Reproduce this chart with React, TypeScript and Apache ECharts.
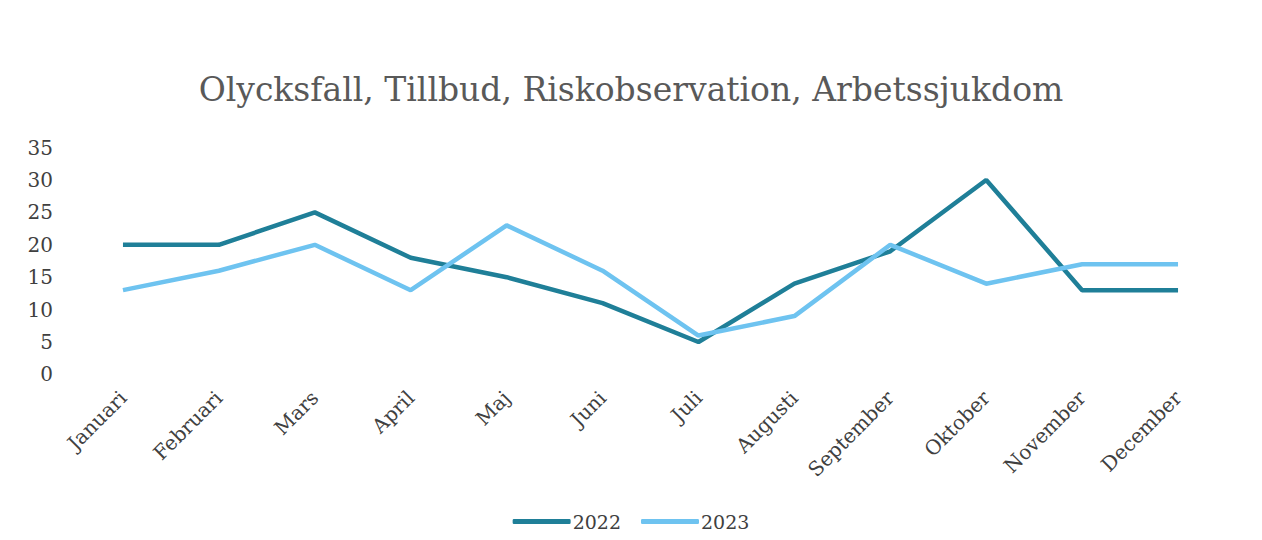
import React, { useEffect, useRef } from "react";
import * as echarts from "echarts";

const months = ["Januari", "Februari", "Mars", "April", "Maj", "Juni", "Juli", "Augusti", "September", "Oktober", "November", "December"];
const values2022 = [20, 20, 25, 18, 15, 11, 5, 14, 19, 30, 13, 13];
const values2023 = [13, 16, 20, 13, 23, 16, 6, 9, 20, 14, 17, 17];
const seriesNames = ["2022", "2023"];
const titleText = "Olycksfall, Tillbud, Riskobservation, Arbetssjukdom";

const FONT = "'DejaVu Serif', Georgia, serif";

export default function App() {
  const ref = useRef<HTMLDivElement>(null);
  useEffect(() => {
    document.body.style.margin = "0";
    const chart = echarts.init(ref.current!, null, { renderer: "svg" });
    chart.setOption({
      animation: false,
      backgroundColor: "#ffffff",
      title: {
        text: titleText,
        left: "center",
        top: 68,
        textStyle: { fontFamily: FONT, fontSize: 33, fontWeight: "normal", color: "#595959" },
      },
      legend: {
        bottom: 4,
        left: "center",
        itemWidth: 58,
        itemHeight: 5,
        itemGap: 20,
        icon: "roundRect",
        textStyle: { fontFamily: FONT, fontSize: 19, color: "#404040", padding: [0, 0, 0, -3] },
        data: seriesNames,
      },
      grid: { left: 75, right: 36, top: 147.6, bottom: 165.6, containLabel: false },
      xAxis: {
        type: "category",
        data: months,
        boundaryGap: true,
        axisLine: { show: false },
        axisTick: { show: false },
        axisLabel: { rotate: 45, fontFamily: FONT, fontSize: 20, color: "#404040", margin: 20, interval: 0 },
      },
      yAxis: {
        type: "value",
        min: 0,
        max: 35,
        interval: 5,
        axisLine: { show: false },
        axisTick: { show: false },
        splitLine: { show: false },
        axisLabel: { fontFamily: FONT, fontSize: 20, color: "#404040", margin: 22 },
      },
      series: [
        {
          name: seriesNames[0],
          type: "line",
          data: values2022,
          symbol: "none",
          lineStyle: { width: 4.5, color: "#1f7f98" },
          itemStyle: { color: "#1f7f98" },
        },
        {
          name: seriesNames[1],
          type: "line",
          data: values2023,
          symbol: "none",
          lineStyle: { width: 4.5, color: "#6ec3f0" },
          itemStyle: { color: "#6ec3f0" },
        },
      ],
    });
    return () => chart.dispose();
  }, []);
  return <div ref={ref} style={{ width: 1262, height: 540 }} />;
}
